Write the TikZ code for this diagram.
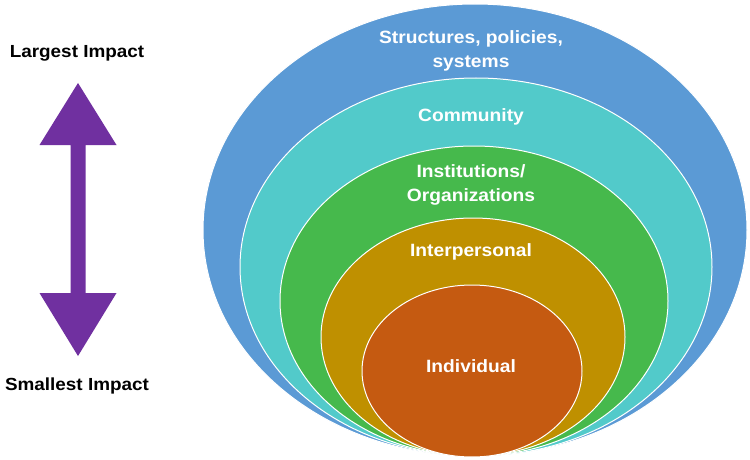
\documentclass[tikz,border=0pt]{standalone}
\usepackage{fontspec}
\setmainfont{Liberation Sans}[FakeStretch=1.08]
\definecolor{cblue}{HTML}{5B9AD5}
\definecolor{ccyan}{HTML}{52CACA}
\definecolor{cgreen}{HTML}{46B94C}
\definecolor{cgold}{HTML}{BF9000}
\definecolor{corange}{HTML}{C55A11}
\definecolor{cpurple}{HTML}{7030A0}
\begin{document}
\begin{tikzpicture}[x=1pt,y=-1pt,
  ring/.style={draw=white,line width=1pt},
  ringlabel/.style={text=white,font=\bfseries\fontsize{17.8}{23.5}\selectfont,align=center,inner sep=0pt},
  sidelabel/.style={text=black,font=\bfseries\fontsize{17.5}{20}\selectfont,inner sep=0pt}]
\useasboundingbox[fill=white] (0,0) rectangle (750,460);
% rings
\filldraw[ring,fill=cblue]   (475,230) ellipse [x radius=272, y radius=226];
\filldraw[ring,fill=ccyan]   (476,267) ellipse [x radius=236, y radius=189];
\filldraw[ring,fill=cgreen]  (474,301) ellipse [x radius=194, y radius=155];
\filldraw[ring,fill=cgold]   (473,337) ellipse [x radius=152, y radius=119];
\filldraw[ring,fill=corange] (472,371) ellipse [x radius=110, y radius=86];
% labels
\node[ringlabel] (structures) at (471,51) {Structures, policies,\\systems};
\node[ringlabel] (community) at (471,117) {Community};
\node[ringlabel] (institutions) at (471,185) {Institutions/\\Organizations};
\node[ringlabel] (interpersonal) at (471,252) {Interpersonal};
\node[ringlabel] (individual) at (471,366) {Individual};
% side labels
\node[sidelabel] (largest) at (77,53) {Largest Impact};
\node[sidelabel] (smallest) at (77,386) {Smallest Impact};
% double arrow
\fill[cpurple] (78,83) -- (116.5,145) -- (85.5,145) -- (85.5,293) -- (116.5,293)
  -- (78,356) -- (39.5,293) -- (70.5,293) -- (70.5,145) -- (39.5,145) -- cycle;
\end{tikzpicture}
\end{document}
